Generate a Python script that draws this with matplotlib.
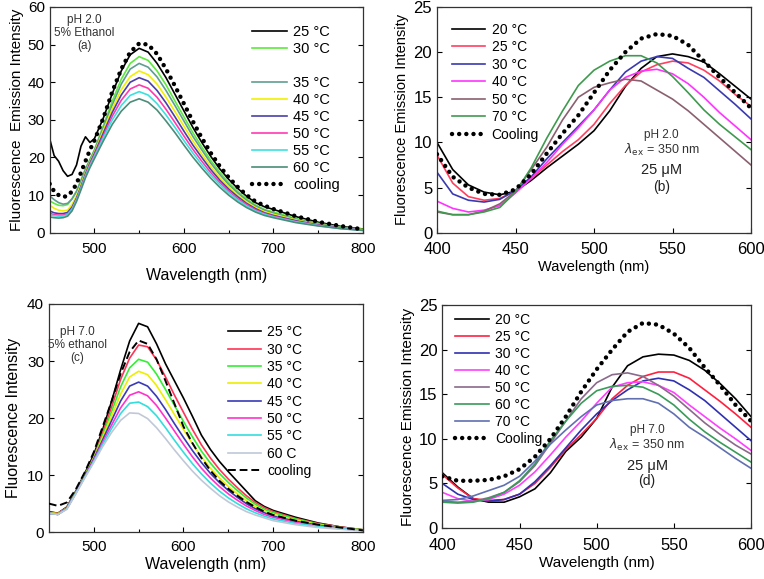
import numpy as np
import matplotlib as mpl
mpl.use('Agg')
import matplotlib.pyplot as plt
from matplotlib.lines import Line2D

plt.rcParams['font.family'] = ['Liberation Sans', 'DejaVu Sans']

######################
## data: panel (a) pH 2.0, 5% ethanol
######################
wl_a = [450, 455, 460, 465, 470, 475, 480, 485, 490, 495, 500, 510, 520, 530, 540, 550, 560, 570, 580, 590,
        600, 610, 620, 630, 640, 650, 660, 670, 680, 690, 700, 725, 750, 775, 800]
labels_a = ['25 °C', '30 °C', '35 °C', '40 °C', '45 °C', '50 °C', '55 °C', '60 °C', 'cooling']
colors_a = ['black', '#5cea3c', '#5f9e8f', '#f2f000', '#4a3fa8', '#ff3ab0', '#3de0e0', '#4c8c78', 'black']
a_25 = [25, 20.5, 19, 16.5, 15, 15.5, 18, 23, 25.5, 24, 25, 30.5, 37, 43, 47.3, 49, 48, 45, 41.2, 36.8,
        32.4, 28, 24, 20.3, 17, 14.2, 11.8, 9.7, 8, 6.9, 6.2, 4.3, 2.8, 1.7, 1.0]
a_30 = [8.5, 7.8, 7.3, 7.2, 7.5, 9, 11, 14, 17, 19.5, 22, 28.5, 35, 40.8, 45, 46.8, 45.8, 43, 39.3, 35,
        30.8, 26.6, 22.8, 19.2, 16.1, 13.3, 11, 9, 7.4, 6.2, 5.5, 3.8, 2.5, 1.5, 0.9]
a_35 = [9.8, 8.8, 8, 7.6, 7.8, 9, 11, 13.8, 16.8, 19.3, 21.8, 28, 34, 39.5, 43.5, 45, 44, 41.4, 37.8, 33.8,
        29.7, 25.6, 22, 18.5, 15.5, 12.8, 10.6, 8.6, 7.1, 6, 5.2, 3.6, 2.4, 1.4, 0.8]
a_40 = [7.3, 6.5, 6, 5.8, 6, 7.5, 9.8, 12.8, 16, 18.8, 21.3, 27.2, 33, 38, 41.5, 43, 42, 39.5, 36, 32.2,
        28.3, 24.4, 20.9, 17.6, 14.7, 12.2, 10, 8.2, 6.7, 5.6, 4.9, 3.4, 2.2, 1.3, 0.8]
a_45 = [5.8, 5.3, 5.1, 5.1, 5.4, 6.8, 9.2, 12.3, 15.6, 18.5, 21, 26.5, 32, 36.6, 40, 41.2, 40.3, 37.8, 34.5, 30.8,
        27, 23.3, 20, 16.8, 14, 11.6, 9.6, 7.8, 6.4, 5.3, 4.6, 3.2, 2.1, 1.3, 0.7]
a_50 = [5.2, 4.8, 4.7, 4.7, 5, 6.4, 8.9, 12, 15.3, 18.2, 20.6, 25.8, 31, 35.2, 38.2, 39.3, 38.4, 36, 32.8, 29.3,
        25.7, 22.2, 19, 16, 13.4, 11.1, 9.1, 7.5, 6.1, 5.1, 4.4, 3, 2, 1.2, 0.7]
a_55 = [4.8, 4.5, 4.4, 4.4, 4.8, 6.2, 8.7, 11.8, 15, 17.8, 20.2, 25.2, 30, 33.8, 36.5, 37.5, 36.6, 34.3, 31.3, 28,
        24.5, 21.2, 18.1, 15.3, 12.8, 10.6, 8.7, 7.1, 5.8, 4.9, 4.2, 2.9, 1.9, 1.1, 0.7]
a_60 = [4.2, 4, 3.9, 4, 4.4, 5.8, 8.3, 11.4, 14.6, 17.3, 19.7, 24.4, 28.8, 32.3, 34.7, 35.6, 34.7, 32.6, 29.7, 26.6,
        23.3, 20.1, 17.2, 14.5, 12.1, 10, 8.2, 6.7, 5.5, 4.6, 4, 2.7, 1.8, 1.1, 0.6]
a_cool = [13, 11, 10, 9.5, 9.8, 11, 13, 16, 19, 22, 24.5, 30.5, 37.5, 43.5, 48, 50.3, 50, 47.5, 43.5, 39,
          34.3, 29.6, 25.2, 21.2, 17.7, 14.7, 12.2, 10, 8.3, 7.2, 6.3, 4.4, 2.9, 1.8, 0.9]

######################
## data: panel (b) pH 2.0, 25 uM
######################
wl_b = [400, 410, 420, 430, 440, 450, 460, 470, 480, 490, 500, 510, 520, 530, 540, 550, 560, 570, 580, 590, 600]
labels_b = ['20 °C', '25 °C', '30 °C', '40 °C', '50 °C', '70 °C', 'Cooling']
colors_b = ['black', '#ff4060', '#3a3ab0', '#ff33ff', '#8a6070', '#3f9a4f', 'black']
b_20 = [10, 7, 5.3, 4.5, 4.2, 4.6, 5.8, 7.2, 8.5, 9.8, 11.3, 13.5, 16.2, 18.2, 19.5, 19.8, 19.5, 18.9, 17.6, 16.2, 14.8]
b_25 = [8.6, 5.5, 4, 3.6, 3.8, 4.6, 6, 7.5, 9, 10.3, 12, 14.3, 16.3, 17.8, 18.6, 19, 18.8, 18, 16.8, 15.3, 14]
b_30 = [6.7, 4.3, 3.6, 3.4, 3.7, 4.7, 6.2, 8.2, 10, 11.8, 13.6, 15.8, 17.8, 19, 19.5, 19.3, 18.2, 17.2, 15.7, 14.2, 12.6]
b_40 = [3.5, 2.7, 2.3, 2.5, 3, 4.4, 6, 7.8, 9.8, 11.6, 13.6, 15.8, 17.2, 17.9, 18.1, 17.6, 16.5, 15, 13.3, 11.8, 10.3]
b_50 = [2.3, 2.0, 2.0, 2.4, 3.2, 4.6, 7, 9.5, 12.5, 15, 16.1, 16.6, 17, 16.8, 15.8, 14.8, 13.5, 12, 10.5, 9, 7.5]
b_70 = [2.4, 2.0, 2.0, 2.3, 2.8, 4.5, 7.2, 10.5, 13.5, 16.3, 18, 19, 19.6, 19.6, 18.8, 17.3, 15.5, 13.6, 12, 10.6, 9.2]
b_cool = [8.7, 6.2, 5, 4.3, 4.2, 4.8, 6.5, 8.8, 11, 13, 15.5, 18, 20, 21.5, 22, 21.8, 20.8, 19, 17.2, 15.5, 13.8]

######################
## data: panel (c) pH 7.0, 5% ethanol
######################
wl_c = [450, 460, 470, 480, 490, 500, 510, 520, 530, 540, 550, 560, 570, 580, 590,
        600, 610, 620, 630, 640, 650, 660, 670, 680, 690, 700, 725, 750, 775, 800]
labels_c = ['25 °C', '30 °C', '35 °C', '40 °C', '45 °C', '50 °C', '55 °C', '60 C', 'cooling']
colors_c = ['black', '#ff3355', '#33ee33', '#eeee00', '#3a3ab8', '#ff33cc', '#33dddd', '#c0c8d8', 'black']
c_25 = [3.6, 3.3, 4.4, 7.2, 10.3, 13.6, 18, 23, 28.5, 33.5, 36.6, 36, 33, 29.5, 26.5,
        23.5, 20.3, 17, 14.5, 12.4, 10.6, 8.9, 7.2, 5.5, 4.5, 3.8, 2.6, 1.6, 0.9, 0.4]
c_30 = [3.5, 3.3, 4.3, 7, 10, 13.2, 17.5, 22, 26.8, 30.5, 32.8, 32.5, 30.2, 27.2, 24,
        21, 18, 15.3, 13, 11, 9.3, 7.8, 6.4, 5.2, 4.3, 3.6, 2.4, 1.5, 0.9, 0.4]
c_35 = [3.4, 3.2, 4.2, 7, 10, 13, 17, 21.2, 25.5, 28.8, 30.3, 29.8, 27.7, 25, 22.2,
        19.4, 16.7, 14.2, 12.1, 10.3, 8.7, 7.3, 6, 4.9, 4, 3.4, 2.3, 1.4, 0.8, 0.4]
c_40 = [3.4, 3.2, 4.2, 6.9, 9.9, 12.9, 16.6, 20.4, 24.2, 27.2, 28.2, 27.6, 25.7, 23.2, 20.6,
        18, 15.5, 13.2, 11.2, 9.5, 8, 6.7, 5.5, 4.5, 3.7, 3.1, 2.1, 1.3, 0.8, 0.3]
c_45 = [3.3, 3.1, 4.2, 6.9, 9.8, 12.8, 16.2, 19.6, 23, 25.6, 26.3, 25.6, 23.8, 21.5, 19,
        16.6, 14.3, 12.2, 10.3, 8.7, 7.3, 6.1, 5, 4.1, 3.4, 2.8, 1.9, 1.2, 0.7, 0.3]
c_50 = [3.3, 3.1, 4.1, 6.8, 9.7, 12.6, 15.8, 18.8, 21.8, 24, 24.6, 23.9, 22.2, 20, 17.7,
        15.4, 13.2, 11.2, 9.5, 8, 6.7, 5.6, 4.6, 3.8, 3.1, 2.6, 1.7, 1.1, 0.6, 0.3]
c_55 = [3.3, 3.1, 4.1, 6.8, 9.6, 12.4, 15.4, 18.2, 20.8, 22.6, 22.8, 22, 20.4, 18.3, 16.1,
        14, 12, 10.2, 8.6, 7.2, 6, 5, 4.1, 3.4, 2.8, 2.3, 1.5, 1, 0.6, 0.3]
c_60 = [3.3, 3.1, 4, 6.7, 9.5, 12.2, 15, 17.5, 19.6, 20.9, 20.8, 19.9, 18.3, 16.4, 14.4,
        12.5, 10.7, 9.1, 7.7, 6.4, 5.3, 4.4, 3.6, 3, 2.5, 2, 1.3, 0.8, 0.5, 0.2]
c_cool = [5, 4.6, 5.2, 7.5, 10.5, 14, 18.5, 23, 27.8, 31.6, 33.6, 33, 30.3, 26.5, 22.5,
          18.5, 15.6, 13, 10.8, 9, 7.6, 6.4, 5.3, 4.4, 3.6, 3, 2, 1.3, 0.8, 0.3]

######################
## data: panel (d) pH 7.0, 25 uM
######################
wl_d = [400, 410, 420, 430, 440, 450, 460, 470, 480, 490, 500, 510, 520, 530, 540, 550, 560, 570, 580, 590, 600]
labels_d = ['20 °C', '25 °C', '30 °C', '40 °C', '50 °C', '60 °C', '70 °C', 'Cooling']
colors_d = ['black', '#ff2040', '#3030b0', '#ff40ff', '#8a6a8a', '#3a9a5a', '#6070b0', 'black']
d_20 = [6.2, 4.6, 3.3, 2.9, 2.9, 3.5, 4.4, 6.2, 8.6, 10.2, 12.3, 15.8, 18.2, 19.2, 19.5, 19.4, 18.8, 17.7, 16.2, 14.5, 12.5]
d_25 = [6, 4.5, 3.3, 3.1, 3.2, 3.8, 5, 6.8, 8.8, 10.5, 12.3, 14.5, 16, 17, 17.5, 17.5, 16.8, 15.5, 14.2, 12.8, 11.3]
d_30 = [5, 3.8, 3.2, 3.0, 3.2, 3.8, 5.2, 7, 9, 11, 12.8, 14.3, 15.5, 16.5, 16.8, 16.5, 15.5, 14.3, 12.8, 11.3, 9.8]
d_40 = [4, 3.3, 3, 3.2, 3.8, 4.8, 6.3, 8.2, 10.2, 12, 14, 15.8, 16.3, 16.4, 16, 15.2, 13.8, 12.5, 11.2, 10, 8.7]
d_50 = [3, 2.9, 3.0, 3.4, 4.0, 5.2, 7, 9.5, 12, 14.5, 16.3, 17.2, 17.4, 17, 16, 14.8, 13.3, 11.8, 10.5, 9.3, 8.3]
d_60 = [2.9, 2.8, 2.9, 3.3, 4, 5.3, 7.2, 9.8, 12, 14, 15.4, 15.9, 16, 15.8, 15, 13.8, 12.2, 10.8, 9.6, 8.5, 7.4]
d_70 = [3.1, 3.2, 3.6, 4.2, 4.8, 5.8, 7.5, 9.4, 11, 12.5, 13.8, 14.3, 14.5, 14.5, 14, 12.8, 11.3, 10.2, 9, 7.8, 6.7]
d_cool = [5.8, 5.3, 5.3, 5.4, 5.8, 6.6, 8, 10, 12.5, 15.3, 17.8, 20, 22, 23, 22.8, 21.8, 20.2, 18, 16, 13.8, 12]

DOTS = (0, (0.01, 1.6))


def draw_panel(ax, wl, series, labels, colors, cool_style):
    handles = []
    for i, (y, lab, col) in enumerate(zip(series, labels, colors)):
        if i == len(series) - 1:
            if cool_style == 'dots':
                h, = ax.plot(wl, y, color='black', lw=3.2, linestyle=DOTS,
                             dash_capstyle='round', label=lab, zorder=5)
            else:
                h, = ax.plot(wl, y, color='black', lw=1.4, linestyle=(0, (4, 2)),
                             label=lab, zorder=5)
        else:
            h, = ax.plot(wl, y, color=col, lw=1.2, label=lab)
        handles.append(h)
    return handles


def style_axes(ax, tick_size, xpad):
    ax.tick_params(direction='in', which='both', right=True, top=False,
                   labelsize=tick_size, length=3.5, width=0.8)
    ax.tick_params(axis='x', pad=xpad)
    ax.tick_params(which='minor', length=2.5)
    for s in ax.spines.values():
        s.set_linewidth(0.9)
        s.set_color('#333333')


def add_legend(ax, handles, anchor, size, spacing):
    ax.legend(handles=handles, loc='upper left', bbox_to_anchor=anchor, frameon=False,
              fontsize=size, borderpad=0, borderaxespad=0, handlelength=2.4,
              handletextpad=0.45, labelspacing=spacing)


fig = plt.figure(figsize=(7.64, 5.79), dpi=100)

ax_a = fig.add_axes([0.065, 0.598, 0.410, 0.390])
ax_b = fig.add_axes([0.572, 0.598, 0.411, 0.390])
ax_c = fig.add_axes([0.064, 0.081, 0.411, 0.394])
ax_d = fig.add_axes([0.579, 0.088, 0.404, 0.385])

######################
## (a)
######################
h = draw_panel(ax_a, wl_a, [a_25, a_30, a_35, a_40, a_45, a_50, a_55, a_60, a_cool],
               labels_a, colors_a, 'dots')
blank = Line2D([], [], color='none', label=' ')
h = h[:2] + [blank] + h[2:]
add_legend(ax_a, h, (0.645, 0.918), 10.5, 0.2)
ax_a.set_xlim(450, 800)
ax_a.set_ylim(0, 60)
ax_a.set_xticks([500, 600, 700, 800])
ax_a.set_xticks([550, 650, 750], minor=True)
ax_a.set_yticks(range(0, 61, 10))
style_axes(ax_a, 11, 7)
ax_a.set_xlabel('Wavelength (nm)', fontsize=11.5, labelpad=8)
ax_a.set_ylabel('Fluorescence  Emission Intensity', fontsize=11, labelpad=3)
ax_a.text(489, 53, 'pH 2.0\n5% Ethanol\n(a)', ha='center', va='center', fontsize=8.5,
          color='#333333', linespacing=1.1)

######################
## (b)
######################
h = draw_panel(ax_b, wl_b, [b_20, b_25, b_30, b_40, b_50, b_70, b_cool],
               labels_b, colors_b, 'dots')
add_legend(ax_b, h, (0.048, 0.93), 10, 0.25)
ax_b.set_xlim(400, 600)
ax_b.set_ylim(0, 25)
ax_b.set_xticks([400, 450, 500, 550, 600])
ax_b.set_yticks(range(0, 26, 5))
style_axes(ax_b, 12, 7)
ax_b.set_xlabel('Wavelength (nm)', fontsize=10.5, labelpad=2)
ax_b.set_ylabel('Fluorescence Emission Intensity', fontsize=10.5, labelpad=3)
ax_b.text(543, 10.8, 'pH 2.0', ha='center', va='center', fontsize=8.5, color='#333333')
ax_b.text(543, 9.2, r'$\lambda_{\rm ex}$ = 350 nm', ha='center', va='center', fontsize=9, color='#333333')
ax_b.text(543, 6.9, '25 μM', ha='center', va='center', fontsize=10.5, color='#222222')
ax_b.text(543, 5.1, '(b)', ha='center', va='center', fontsize=10, color='#222222')

######################
## (c)
######################
h = draw_panel(ax_c, wl_c, [c_25, c_30, c_35, c_40, c_45, c_50, c_55, c_60, c_cool],
               labels_c, colors_c, 'dash')
add_legend(ax_c, h, (0.57, 0.907), 10, 0.24)
ax_c.set_xlim(450, 800)
ax_c.set_ylim(0, 40)
ax_c.set_xticks([500, 600, 700, 800])
ax_c.set_xticks([550, 650, 750], minor=True)
ax_c.set_yticks(range(0, 41, 10))
style_axes(ax_c, 11, 6)
ax_c.set_xlabel('Wavelength (nm)', fontsize=11.5, labelpad=2)
ax_c.set_ylabel('Fluorescence Intensity', fontsize=11.5, labelpad=4)
ax_c.text(482, 32.8, 'pH 7.0\n5% ethanol\n(c)', ha='center', va='center', fontsize=8.5,
          color='#333333', linespacing=1.1)

######################
## (d)
######################
h = draw_panel(ax_d, wl_d, [d_20, d_25, d_30, d_40, d_50, d_60, d_70, d_cool],
               labels_d, colors_d, 'dots')
add_legend(ax_d, h, (0.042, 0.965), 10, 0.22)
ax_d.set_xlim(400, 600)
ax_d.set_ylim(0, 25)
ax_d.set_xticks([400, 450, 500, 550, 600])
ax_d.set_yticks(range(0, 26, 5))
style_axes(ax_d, 12, 7)
ax_d.set_xlabel('Wavelength (nm)', fontsize=11, labelpad=2)
ax_d.set_ylabel('Fluorescence Emission Intensity', fontsize=11, labelpad=3)
ax_d.text(532.7, 11, 'pH 7.0', ha='center', va='center', fontsize=8.5, color='#333333')
ax_d.text(532.7, 9.3, r'$\lambda_{\rm ex}$ = 350 nm', ha='center', va='center', fontsize=9, color='#333333')
ax_d.text(532.7, 7.0, '25 μM', ha='center', va='center', fontsize=10.5, color='#222222')
ax_d.text(532.7, 5.3, '(d)', ha='center', va='center', fontsize=10, color='#222222')

plt.savefig('out.png', dpi=100)
